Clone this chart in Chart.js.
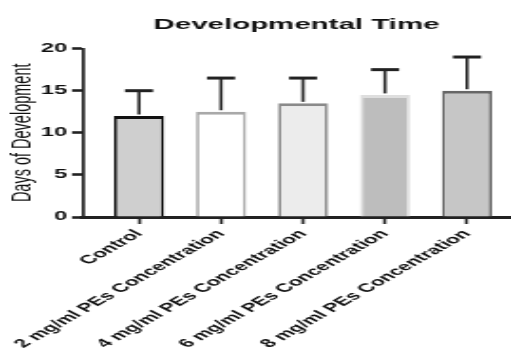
<!DOCTYPE html>
<html>
<head>
<meta charset="utf-8">
<script src="https://cdn.jsdelivr.net/npm/chart.js@4.4.1/dist/chart.umd.min.js"></script>
<style>
  html, body { margin: 0; padding: 0; background: #fff; overflow: hidden; }
  /* the source picture is stretched sideways, so draw narrow and widen it */
  #wrap { width: 269px; height: 356px; transform: scaleX(1.8996); transform-origin: 0 0; }
</style>
</head>
<body>
<div id="wrap"><canvas id="myChart"></canvas></div>
<script>
// data
var categories = ["Control", "2 mg/ml PEs Concentration", "4 mg/ml PEs Concentration",
                  "6 mg/ml PEs Concentration", "8 mg/ml PEs Concentration"];
var means = [12, 12.5, 13.5, 14.5, 15];
var errors = [3, 4, 3, 3, 4];
var yTicks = [0, 5, 10, 15, 20];

var fillColors = ["#cfcfcf", "#ffffff", "#ececec", "#bdbdbd", "#c6c6c6"];
var edgeColors = ["#111111", "#a9a9a9", "#8a8a8a", "#dedede", "#666666"];

var sans = "'Liberation Sans', Arial, sans-serif";

// one sided SD bars on top of each bar
const errorBars = {
  id: "errorBars",
  afterDatasetsDraw(chart) {
    const ctx = chart.ctx, xs = chart.scales.x, ys = chart.scales.y;
    ctx.save();
    ctx.strokeStyle = "#222";
    means.forEach(function (m, i) {
      const px = xs.getPixelForValue(i);
      const base = ys.getPixelForValue(m);
      const top = ys.getPixelForValue(m + errors[i]);
      ctx.lineWidth = 1.6;
      ctx.beginPath(); ctx.moveTo(px, base - 1.5); ctx.lineTo(px, top); ctx.stroke();
      ctx.lineWidth = 3;
      ctx.beginPath(); ctx.moveTo(px - 7.4, top); ctx.lineTo(px + 7.4, top); ctx.stroke();
    });
    ctx.restore();
  }
};

new Chart("myChart", {
  type: "bar",
  data: {
    datasets: [{
      data: means.map(function (m, i) { return {x: i, y: m}; }),
      backgroundColor: fillColors,
      borderColor: edgeColors,
      borderWidth: {top: 3, left: 1.7, right: 1.7, bottom: 0},
      borderSkipped: false,
      barPercentage: 0.61,
      categoryPercentage: 1
    }]
  },
  plugins: [errorBars],
  options: {
    responsive: true,
    maintainAspectRatio: false,
    animation: false,
    layout: {padding: {left: 0, right: 0.6, top: 0, bottom: 0}},
    plugins: {
      legend: {display: false},
      tooltip: {enabled: false},
      title: {
        display: true,
        text: "Developmental Time",
        fullSize: false,
        color: "#111",
        font: {family: sans, size: 15.5, weight: "bold"},
        padding: {top: 15, bottom: 15}
      }
    },
    scales: {
      x: {
        type: "linear",
        offset: false,
        min: -0.683,
        max: 4.523,
        afterBuildTicks: function (axis) {
          axis.ticks = categories.map(function (c, i) { return {value: i}; });
        },
        afterFit: function (axis) { axis.height = 139; },
        grid: {drawOnChartArea: false, offset: false, tickLength: 7, tickWidth: 1.6, tickColor: "#222"},
        border: {color: "#222", width: 3},
        ticks: {
          autoSkip: false,
          minRotation: 47,
          maxRotation: 47,
          padding: 3,
          color: "#111",
          font: {family: sans, size: 12, weight: "bold"},
          callback: function (v) { return categories[v]; }
        }
      },
      y: {
        min: 0,
        max: 20,
        afterBuildTicks: function (axis) {
          axis.ticks = yTicks.map(function (v) { return {value: v}; });
        },
        afterFit: function (axis) { axis.width = 43.7; },
        grid: {drawOnChartArea: false, tickLength: 5.8, tickWidth: 2.6, tickColor: "#222"},
        border: {color: "#222", width: 1.7},
        ticks: {
          padding: 2.5,
          color: "#111",
          font: {family: sans, size: 12.5, weight: "bold"}
        },
        title: {
          display: true,
          text: "Days of Development",
          color: "#111",
          padding: {top: 3, bottom: 0},
          font: {family: sans, size: 14.5}
        }
      }
    }
  }
});
</script>
</body>
</html>
